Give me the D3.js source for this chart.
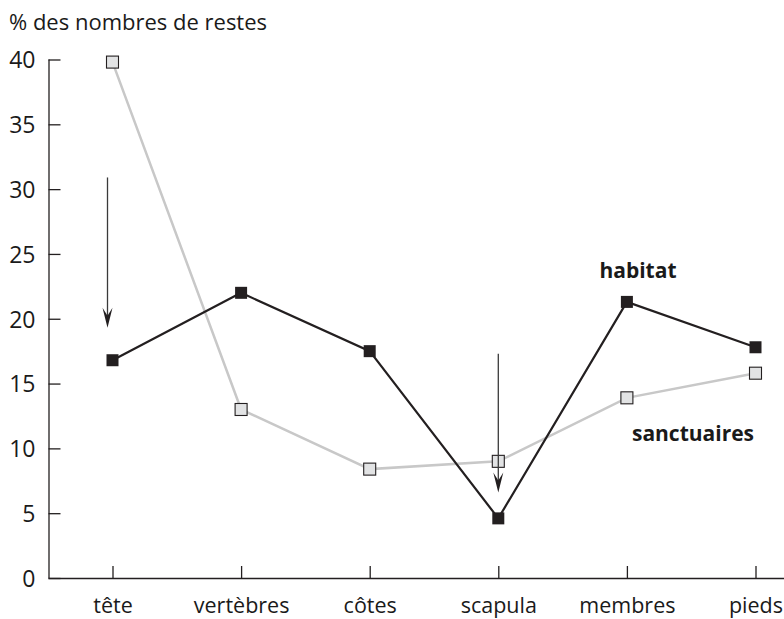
<!DOCTYPE html>
<html>
<head>
<meta charset="utf-8">
<title>D3.js</title>
<style>
  body { margin: 0; background: #fff; }
  text { font-family: "Open Sans", "Lato", sans-serif; fill: #1a1a1a; }
</style>
</head>
<body>
<svg width="784" height="619"></svg>
<script src="https://d3js.org/d3.v7.min.js"></script>
<script>
var categories = ["tête", "vertèbres", "côtes", "scapula", "membres", "pieds"];
var habitat = [16.8, 22.0, 17.5, 4.6, 21.3, 17.8];
var sanctuaires = [39.8, 13.0, 8.4, 9.0, 13.9, 15.8];
var yTicks = [0, 5, 10, 15, 20, 25, 30, 35, 40];
// arrows: category, from value, to value
var arrows = [
  { cat: "tête", from: 30.9, to: 19.3 },
  { cat: "scapula", from: 17.3, to: 6.6 }
];

var svg = d3.select("svg");

var x = d3.scalePoint()
    .domain(categories)
    .range([112.5, 755.5]);

var y = d3.scaleLinear()
    .domain([0, 40])
    .range([578, 59.5]);

// title
svg.append("text")
    .attr("x", 9)
    .attr("y", 30)
    .style("font-size", "22px")
    .text("% des nombres de restes");

// y axis
var yAxis = d3.axisRight(y)
    .tickValues(yTicks)
    .tickSize(12)
    .tickFormat(d3.format("d"));

var gY = svg.append("g")
    .attr("transform", "translate(48.5,0)")
    .call(yAxis);
gY.select(".domain").attr("d", "M0.5," + y(40) + "V" + y(0)).attr("stroke", "#231f20").attr("stroke-width", 1.3);
gY.selectAll(".tick line").attr("stroke", "#231f20").attr("stroke-width", 1.3);
gY.selectAll(".tick text")
    .attr("x", -13)
    .attr("text-anchor", "end")
    .attr("dy", "0.36em")
    .style("font-size", "23px")
    .style("font-family", "'Open Sans', sans-serif")
    .attr("fill", "#1a1a1a");

// x axis
var xAxis = d3.axisTop(x).tickSize(12);
var gX = svg.append("g")
    .attr("transform", "translate(0,578)")
    .call(xAxis);
gX.select(".domain").attr("d", "M48.5,0.5H784").attr("stroke", "#231f20").attr("stroke-width", 1.3);
gX.selectAll(".tick line").attr("stroke", "#231f20").attr("stroke-width", 1.3);
gX.selectAll(".tick text")
    .attr("y", 35)
    .attr("dy", 0)
    .style("font-size", "21.5px")
    .style("font-family", "'Open Sans', sans-serif")
    .attr("fill", "#1a1a1a");

var line = d3.line()
    .x(function (d, i) { return x(categories[i]); })
    .y(function (d) { return y(d); });

// sanctuaires
svg.append("path")
    .datum(sanctuaires)
    .attr("fill", "none")
    .attr("stroke", "#c8c8c8")
    .attr("stroke-width", 2.5)
    .attr("d", line);

// habitat
svg.append("path")
    .datum(habitat)
    .attr("fill", "none")
    .attr("stroke", "#231f20")
    .attr("stroke-width", 2.2)
    .attr("d", line);

var s = 12;
svg.selectAll(".m-s")
    .data(sanctuaires)
    .enter().append("rect")
    .attr("x", function (d, i) { return x(categories[i]) - s / 2; })
    .attr("y", function (d) { return y(d) - s / 2; })
    .attr("width", s).attr("height", s)
    .attr("fill", "#e2e3e4")
    .attr("stroke", "#231f20")
    .attr("stroke-width", 1.1);

svg.selectAll(".m-h")
    .data(habitat)
    .enter().append("rect")
    .attr("x", function (d, i) { return x(categories[i]) - s / 2; })
    .attr("y", function (d) { return y(d) - s / 2; })
    .attr("width", s).attr("height", s)
    .attr("fill", "#231f20");

// arrows (shaft + barbed head)
arrows.forEach(function (d) {
  var ax = x(d.cat) - (d.cat === "tête" ? 5 : 0);
  var y0 = y(d.from), y1 = y(d.to);
  svg.append("path")
    .attr("fill", "none")
    .attr("stroke", "#3a3a3a")
    .attr("stroke-width", 1.3)
    .attr("d", "M" + ax + "," + y0 + "V" + (y1 - 6));
  svg.append("path")
    .attr("d", "M" + (ax - 5) + "," + (y1 - 20) + " L" + ax + "," + y1 +
               " L" + (ax + 5) + "," + (y1 - 20) + " L" + ax + "," + (y1 - 12) + " Z")
    .attr("fill", "#231f20");
});

// series labels
svg.append("text")
    .attr("x", 638).attr("y", 278)
    .attr("text-anchor", "middle")
    .style("font-size", "21px")
    .style("font-weight", "bold")
    .text("habitat");

svg.append("text")
    .attr("x", 693).attr("y", 441)
    .attr("text-anchor", "middle")
    .style("font-size", "21px")
    .style("font-weight", "bold")
    .text("sanctuaires");
</script>
</body>
</html>
